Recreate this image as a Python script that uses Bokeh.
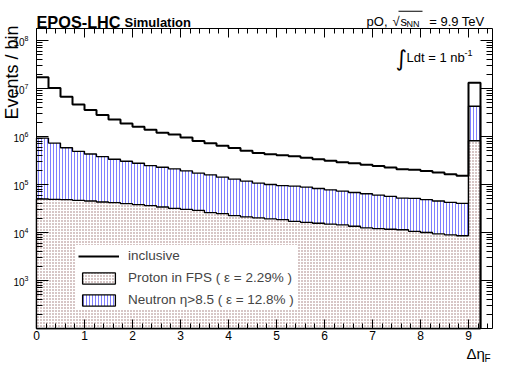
import numpy as np
from bokeh.plotting import figure
from bokeh.models import (FixedTicker, LinearAxis, LogAxis, Label, Legend,
                          LegendItem, Range1d, BoxAnnotation)
from bokeh.embed import file_html
from bokeh.resources import INLINE

# ---------------- data ----------------
bin_width = 0.25
n_bins = 37  # 36 bins on [0, 9] plus the overflow bin [9, 9.25]

inclusive = [1.72e7, 1.02e7, 6.76e6, 4.62e6, 3.57e6, 2.81e6, 2.26e6, 1.87e6,
             1.59e6, 1.38e6, 1.19e6, 1.10e6, 9.57e5, 8.04e5, 7.20e5, 6.41e5,
             5.75e5, 5.06e5, 4.53e5, 4.26e5, 4.06e5, 3.90e5, 3.62e5, 3.36e5,
             3.14e5, 2.91e5, 2.77e5, 2.59e5, 2.44e5, 2.25e5, 2.08e5, 2.03e5,
             1.92e5, 1.77e5, 1.64e5, 1.53e5, 1.32e7]
neutron = [9.27e5, 7.30e5, 5.83e5, 4.91e5, 4.32e5, 3.80e5, 3.36e5, 3.05e5,
           2.77e5, 2.47e5, 2.29e5, 2.11e5, 1.92e5, 1.72e5, 1.59e5, 1.42e5,
           1.29e5, 1.18e5, 1.07e5, 1.00e5, 9.50e4, 9.27e4, 8.84e4, 8.26e4,
           7.76e4, 7.29e4, 6.82e4, 6.41e4, 6.03e4, 5.65e4, 5.22e4, 5.13e4,
           4.82e4, 4.53e4, 4.24e4, 4.04e4, 4.27e6]
proton = [4.99e4, 4.89e4, 4.82e4, 4.67e4, 4.53e4, 4.32e4, 4.18e4, 3.98e4,
          3.80e4, 3.62e4, 3.40e4, 3.18e4, 3.03e4, 2.89e4, 2.59e4, 2.47e4,
          2.25e4, 2.11e4, 2.02e4, 1.92e4, 1.86e4, 1.71e4, 1.63e4, 1.56e4,
          1.49e4, 1.44e4, 1.35e4, 1.25e4, 1.21e4, 1.17e4, 1.14e4, 1.06e4,
          1.00e4, 9.40e3, 8.96e3, 8.55e3, 8.15e5]

x_ticks = [0, 1, 2, 3, 4, 5, 6, 7, 8, 9]
y_ticks = [1e3, 1e4, 1e5, 1e6, 1e7, 1e8]
labels = ["inclusive", "Proton in FPS ( \u03b5 = 2.29% )",
          "Neutron \u03b7>8.5 ( \u03b5 = 12.8% )"]

# ---------------- geometry of the page ----------------
W, H = 508, 365
BOX_L, BOX_R, BOX_T, BOX_B = 36, 492, 28, 328   # plot box in pixels
x_lo, x_hi = 0.0, 9.5
y_lo_exp, y_hi_exp = 2.0, 8.25
y_lo, y_hi = 10 ** y_lo_exp, 10 ** y_hi_exp
kx = (BOX_R - BOX_L) / (x_hi - x_lo)
ky = (BOX_B - BOX_T) / (y_hi_exp - y_lo_exp)
xr = Range1d(x_lo - BOX_L / kx, x_hi + (W - BOX_R) / kx)
yr = Range1d(10 ** (y_lo_exp - (H - BOX_B) / ky), 10 ** (y_hi_exp + BOX_T / ky))

edges = np.arange(n_bins + 1) * bin_width


def step_xy(vals):
    xs = np.repeat(edges, 2)[1:-1]
    ys = np.repeat(np.asarray(vals, dtype=float), 2)
    return xs, ys


def patch_xy(vals):
    xs, ys = step_xy(vals)
    return (np.concatenate([[edges[0]], xs, [edges[-1]]]),
            np.concatenate([[y_lo], ys, [y_lo]]))


FONT = "Liberation Sans"

p = figure(width=W, height=H, x_range=xr, y_range=yr, y_axis_type="log",
           output_backend="svg", toolbar_location=None,
           x_axis_location=None, y_axis_location=None,
           min_border=0, min_border_left=0, min_border_right=0,
           min_border_top=0, min_border_bottom=0)
p.title.visible = False
p.xgrid.visible = False
p.ygrid.visible = False
p.outline_line_color = None
p.background_fill_color = "white"
p.border_fill_color = "white"

x_minor = [round(v, 2) for v in np.arange(0, 9.41, 0.2)]
y_minor = [k * 10.0 ** e for e in range(2, 9) for k in range(2, 10) if k * 10.0 ** e < y_hi]
xticker = FixedTicker(ticks=x_ticks, minor_ticks=x_minor)
yticker = FixedTicker(ticks=y_ticks, minor_ticks=y_minor)


def style_axis(ax, major, minor):
    ax.axis_line_color = "black"
    ax.axis_line_width = 1
    ax.major_tick_line_color = "black"
    ax.minor_tick_line_color = "black"
    ax.major_tick_in = major
    ax.major_tick_out = 0
    ax.minor_tick_in = minor
    ax.minor_tick_out = 0
    ax.major_label_text_font = FONT
    ax.major_label_text_color = "black"


bottom_ax = LinearAxis(ticker=xticker, fixed_location=y_lo, bounds=(x_lo, x_hi))
style_axis(bottom_ax, 9, 5)
bottom_ax.major_label_text_font_size = "12px"
bottom_ax.major_label_standoff = 2
p.add_layout(bottom_ax, "below")

top_ax = LinearAxis(ticker=xticker, fixed_location=y_hi, bounds=(x_lo, x_hi),
                    major_label_overrides={t: "" for t in x_ticks})
style_axis(top_ax, 9, 5)
top_ax.major_label_text_font_size = "0px"
p.add_layout(top_ax, "above")

left_ax = LogAxis(ticker=yticker, fixed_location=x_lo, bounds=(y_lo, y_hi))
style_axis(left_ax, 12, 6)
left_ax.major_label_text_font_size = "10px"
left_ax.major_label_standoff = 8
p.add_layout(left_ax, "left")

right_ax = LogAxis(ticker=yticker, fixed_location=x_hi, bounds=(y_lo, y_hi),
                   major_label_overrides={t: "" for t in y_ticks})
style_axis(right_ax, 12, 6)
right_ax.major_label_text_font_size = "0px"
p.add_layout(right_ax, "right")

# ---------------- histograms ----------------
nx, ny = patch_xy(neutron)
r_neu = p.patch(nx, ny, fill_color="white", hatch_pattern="vertical_line",
                hatch_color="#7f7fff", hatch_scale=3, hatch_weight=1,
                line_color="black", line_width=1.3)
px_, py_ = patch_xy(proton)
r_pro = p.patch(px_, py_, fill_color="white", hatch_pattern="dot",
                hatch_color="#9a7070", hatch_scale=3, hatch_weight=1.1,
                line_color="black", line_width=1.3)
ix, iy = step_xy(inclusive)
ix = np.concatenate([ix, [edges[-1]]])
iy = np.concatenate([iy, [y_lo]])
r_inc = p.line(ix, iy, line_color="black", line_width=2)

legend = Legend(items=[LegendItem(label=labels[0], renderers=[r_inc]),
                       LegendItem(label=labels[1], renderers=[r_pro]),
                       LegendItem(label=labels[2], renderers=[r_neu])],
                location=(75, 55))
legend.label_text_font = FONT
legend.label_text_font_size = "13.5px"
legend.glyph_width = 41
legend.glyph_height = 14
legend.label_height = 14
legend.label_standoff = 9
legend.spacing = 7
legend.padding = 3
legend.margin = 0
legend.border_line_alpha = 0
legend.background_fill_color = "white"
legend.background_fill_alpha = 1
p.add_layout(legend)


def lab(text, x, y, size, bold=False, align="left", angle=0, font=FONT):
    # x, y: page pixels from the top-left corner
    p.add_layout(Label(x=x, y=H - y, x_units="screen", y_units="screen", text=text,
                       text_font=font, text_font_size=f"{size}px",
                       text_font_style="bold" if bold else "normal",
                       text_align=align, text_baseline="alphabetic",
                       angle=angle, text_color="black"))


lab("EPOS-LHC", 36, 21.7, 16.3, bold=True)
lab("Simulation", 124, 21.7, 13, bold=True)
lab("pO,", 387, 20.7, 13, align="right")
lab("\u221a", 392, 20.7, 13)
lab("s", 400, 20.7, 13)
lab("NN", 406, 23.5, 9)
lab("= 9.9 TeV", 484, 20.7, 13, align="right")
p.add_layout(BoxAnnotation(left=398, right=422, bottom=H - 11.2, top=H - 10.2,
                           left_units="screen", right_units="screen",
                           bottom_units="screen", top_units="screen",
                           fill_color="black", fill_alpha=1, line_alpha=0))
lab("\u222b", 395, 58, 22, font="DejaVu Sans")
lab("Ldt = 1 nb", 406, 57.3, 13)
lab("-1", 464, 52, 9)
lab("Events / bin", 11, 25, 18, align="right", angle=np.pi / 2)
lab("\u0394\u03b7", 466, 353, 15)
lab("F", 484, 358, 10)

open("out.html", "w").write(file_html(p, INLINE))
